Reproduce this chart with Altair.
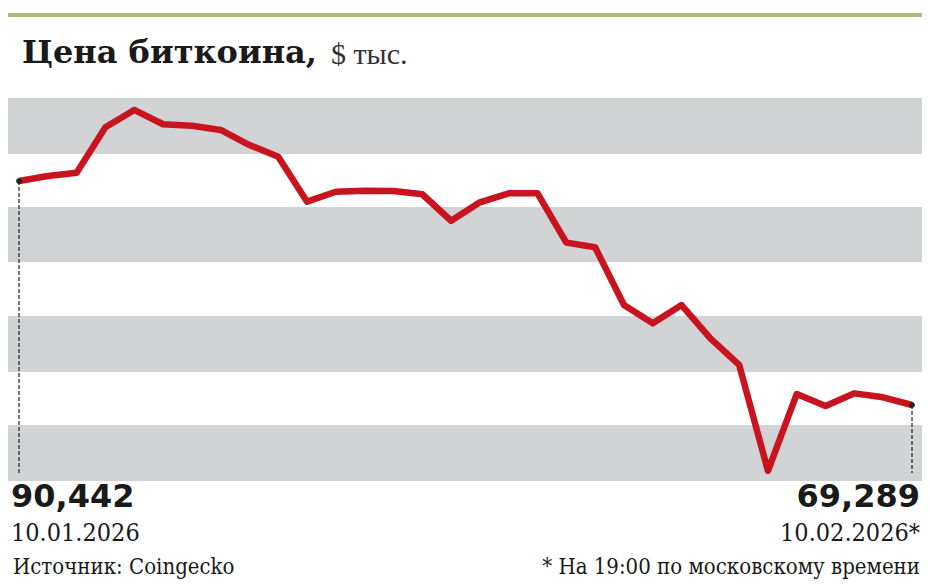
import altair as alt
import pandas as pd

# ---- data ----
dates = pd.date_range("2026-01-10", "2026-02-10", freq="D")
prices = [90.442, 90.91, 91.22, 95.51, 97.15, 95.80, 95.66, 95.26, 93.84, 92.74,
          88.49, 89.43, 89.53, 89.50, 89.19, 86.69, 88.43, 89.28, 89.28, 84.62,
          84.18, 78.73, 77.00, 78.73, 75.59, 73.07, 63.06, 70.33, 69.20, 70.39,
          70.02, 69.289]
band_top = [98.28, 87.99, 77.69, 67.40]
band_bottom = [92.99, 82.79, 72.40, 62.11]
end_values = ["90,442", "69,289"]
end_dates = ["10.01.2026", "10.02.2026*"]
title_bold = "Цена биткоина,"
title_unit = "$ тыс."
source = "Источник: Coingecko"
note = "* На 19:00 по московскому времени"

W, H = 914, 572

df = pd.DataFrame({"date": dates, "price": prices})
df["day"] = (df["date"] - df["date"].iloc[0]).dt.days
ends = df.iloc[[0, -1]].copy()
bands = pd.DataFrame({"top": band_top, "bottom": band_bottom})

xs = alt.Scale(domain=[-0.382, 31.347], nice=False, zero=False)
ys = alt.Scale(domain=[52.765, 106.778], nice=False, zero=False)

band_layer = alt.Chart(bands).mark_rect(color="#d1d3d5").encode(
    x=alt.value(0), x2=alt.value(W),
    y=alt.Y("top:Q", scale=ys, axis=None), y2="bottom:Q")

green_line = alt.Chart(pd.DataFrame({"a": [0]})).mark_rule(
    color="#b0b881", strokeWidth=4).encode(
    x=alt.value(0), x2=alt.value(W), y=alt.value(7))

line = alt.Chart(df).mark_line(color="#c8141e", strokeWidth=6.5,
                               strokeJoin="round").encode(
    x=alt.X("day:Q", scale=xs, axis=None),
    y=alt.Y("price:Q", scale=ys, axis=None))

dash = alt.Chart(ends).mark_rule(color="#222", strokeWidth=1.2,
                                 strokeDash=[4, 2]).encode(
    x=alt.X("day:Q", scale=xs), y=alt.Y("price:Q", scale=ys), y2=alt.value(465))

dots = alt.Chart(ends).mark_circle(color="#222", opacity=1, size=32).encode(
    x=alt.X("day:Q", scale=xs), y=alt.Y("price:Q", scale=ys))

def txt(s, x, y, size, weight="normal", font="DejaVu Serif Condensed",
        align="left", color="#1a1a1a"):
    return alt.Chart(pd.DataFrame({"t": [s]})).mark_text(
        align=align, baseline="alphabetic", fontSize=size, fontWeight=weight,
        font=font, color=color).encode(
        x=alt.value(x), y=alt.value(y), text="t:N")

texts = [
    txt(title_bold, 14, 55, 32, "bold", "DejaVu Serif"),
    txt(title_unit, 323, 56, 30, "normal", "Liberation Serif", color="#333"),
    txt(end_values[0], 3, 499, 32, "bold", "DejaVu Sans"),
    txt(end_values[1], 912, 499, 32, "bold", "DejaVu Sans", align="right"),
    txt(end_dates[0], 3, 533, 25),
    txt(end_dates[1], 912, 533, 25, align="right"),
    txt(source, 5, 566, 22),
    txt(note, 912, 566, 22, align="right"),
]

chart = alt.layer(band_layer, green_line, line, dash, dots, *texts).properties(
    width=W, height=H, padding=0, autosize=alt.AutoSizeParams(type="none"),
    background="white"
).configure_view(stroke=None)

chart.save("out.html", embed_options={"renderer": "svg", "actions": False})
